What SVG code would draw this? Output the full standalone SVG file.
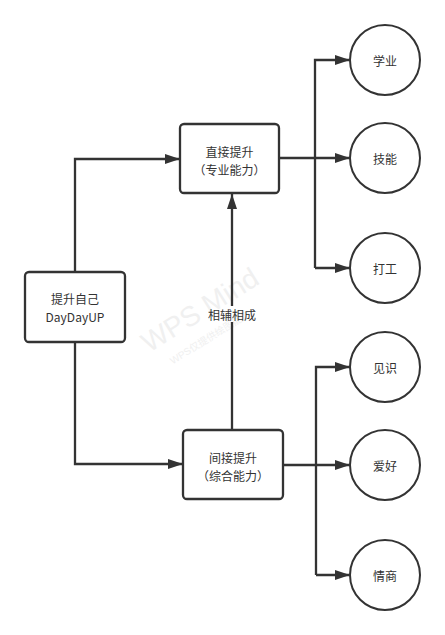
<svg xmlns="http://www.w3.org/2000/svg" width="445" height="635" viewBox="0 0 445 635">
<style>
.box{fill:#fff;stroke:#333;stroke-width:2.3}
.circ{fill:#fff;stroke:#333;stroke-width:2}
.t{font-family:"Noto Sans CJK SC","Liberation Sans",sans-serif;font-size:12px;fill:#333;text-anchor:middle;dominant-baseline:central}
.ln{fill:none;stroke:#333;stroke-width:2.3}
.wm{font-family:"Liberation Sans","Noto Sans CJK SC",sans-serif;fill:#f0f0f0;text-anchor:middle}
</style>
<defs>
<marker id="ah" markerUnits="userSpaceOnUse" markerWidth="16" markerHeight="12" refX="15" refY="5" orient="auto">
<path d="M0,0 L15,5 L0,10 Z" fill="#333"/>
</marker>
</defs>
<rect width="445" height="635" fill="#fff"/>
<g id="watermark">
<text class="wm" x="205" y="318" font-size="28" transform="rotate(-32 205 318)">WPS Mind</text>
<text class="wm" x="212" y="340" font-size="10" transform="rotate(-32 212 340)">WPS仅提供绘图能力</text>
</g>
<g id="connectors">
<path class="ln" d="M75,272 V159 H180" marker-end="url(#ah)"/>
<path class="ln" d="M75,342 V464 H183" marker-end="url(#ah)"/>
<path class="ln" d="M232,430 V322"/>
<path class="ln" d="M232,306 V194" marker-end="url(#ah)"/>
<path class="ln" d="M279,158 H350" marker-end="url(#ah)"/>
<path class="ln" d="M315,268 V60 H350" marker-end="url(#ah)"/>
<path class="ln" d="M315,268 H350" marker-end="url(#ah)"/>
<path class="ln" d="M283,465 H350" marker-end="url(#ah)"/>
<path class="ln" d="M316,575 V367 H350" marker-end="url(#ah)"/>
<path class="ln" d="M316,575 H350" marker-end="url(#ah)"/>
<text class="t" x="232" y="314">相辅相成</text>
</g>
<g id="root">
<rect class="box" x="25" y="272" width="100" height="70" rx="4"/>
<text class="t" x="75" y="298">提升自己</text>
<text class="t" x="75" y="316">DayDayUP</text>
</g>
<g id="direct">
<rect class="box" x="180" y="124" width="99" height="69" rx="4"/>
<text class="t" x="229.5" y="151.5">直接提升</text>
<text class="t" x="229.5" y="169.5">（专业能力）</text>
</g>
<g id="indirect">
<rect class="box" x="183" y="430" width="100" height="69" rx="4"/>
<text class="t" x="233" y="457">间接提升</text>
<text class="t" x="233" y="475">（综合能力）</text>
</g>
<g id="xueye"><circle class="circ" cx="385" cy="60" r="35"/><text class="t" x="385" y="60">学业</text></g>
<g id="jineng"><circle class="circ" cx="385" cy="158" r="35"/><text class="t" x="385" y="158">技能</text></g>
<g id="dagong"><circle class="circ" cx="385" cy="268" r="35"/><text class="t" x="385" y="268">打工</text></g>
<g id="jianshi"><circle class="circ" cx="385" cy="367" r="35"/><text class="t" x="385" y="367">见识</text></g>
<g id="aihao"><circle class="circ" cx="385" cy="465" r="35"/><text class="t" x="385" y="465">爱好</text></g>
<g id="qingshang"><circle class="circ" cx="385" cy="575" r="35"/><text class="t" x="385" y="575">情商</text></g>
</svg>
